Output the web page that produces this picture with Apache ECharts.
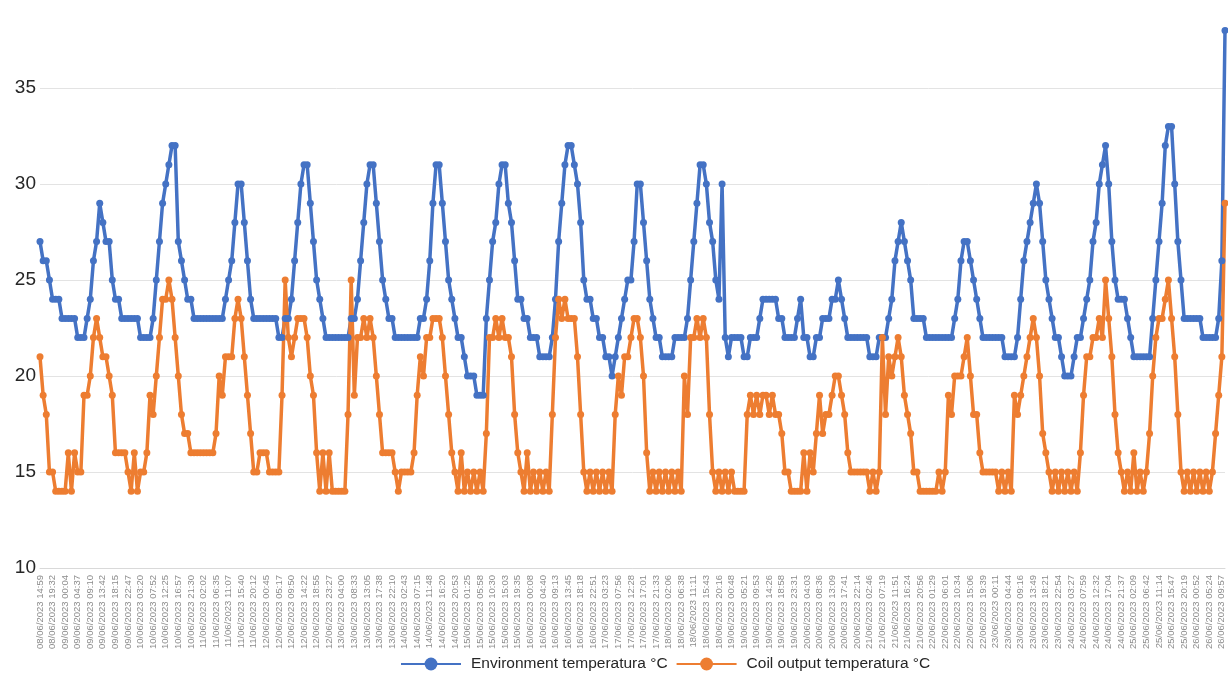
<!DOCTYPE html>
<html>
<head>
<meta charset="utf-8">
<script src="https://cdn.jsdelivr.net/npm/echarts@6/dist/echarts.min.js"></script>
<style>
  html, body { margin: 0; padding: 0; background: #fff; }
  #chart { width: 1228px; height: 676px; }
</style>
</head>
<body>
<div id="chart"></div>
<script>
// x labels, one every 4 readings
var tickLabels = [
  "08/06/2023 14:59", "08/06/2023 19:32", "09/06/2023 00:04", "09/06/2023 04:37", "09/06/2023 09:10",
  "09/06/2023 13:42", "09/06/2023 18:15", "09/06/2023 22:47", "10/06/2023 03:20", "10/06/2023 07:52",
  "10/06/2023 12:25", "10/06/2023 16:57", "10/06/2023 21:30", "11/06/2023 02:02", "11/06/2023 06:35",
  "11/06/2023 11:07", "11/06/2023 15:40", "11/06/2023 20:12", "12/06/2023 00:45", "12/06/2023 05:17",
  "12/06/2023 09:50", "12/06/2023 14:22", "12/06/2023 18:55", "12/06/2023 23:27", "13/06/2023 04:00",
  "13/06/2023 08:33", "13/06/2023 13:05", "13/06/2023 17:38", "13/06/2023 22:10", "14/06/2023 02:43",
  "14/06/2023 07:15", "14/06/2023 11:48", "14/06/2023 16:20", "14/06/2023 20:53", "15/06/2023 01:25",
  "15/06/2023 05:58", "15/06/2023 10:30", "15/06/2023 15:03", "15/06/2023 19:35", "16/06/2023 00:08",
  "16/06/2023 04:40", "16/06/2023 09:13", "16/06/2023 13:45", "16/06/2023 18:18", "16/06/2023 22:51",
  "17/06/2023 03:23", "17/06/2023 07:56", "17/06/2023 12:28", "17/06/2023 17:01", "17/06/2023 21:33",
  "18/06/2023 02:06", "18/06/2023 06:38", "18/06/2023 11:11", "18/06/2023 15:43", "18/06/2023 20:16",
  "19/06/2023 00:48", "19/06/2023 05:21", "19/06/2023 09:53", "19/06/2023 14:26", "19/06/2023 18:58",
  "19/06/2023 23:31", "20/06/2023 04:03", "20/06/2023 08:36", "20/06/2023 13:09", "20/06/2023 17:41",
  "20/06/2023 22:14", "21/06/2023 02:46", "21/06/2023 07:19", "21/06/2023 11:51", "21/06/2023 16:24",
  "21/06/2023 20:56", "22/06/2023 01:29", "22/06/2023 06:01", "22/06/2023 10:34", "22/06/2023 15:06",
  "22/06/2023 19:39", "23/06/2023 00:11", "23/06/2023 04:44", "23/06/2023 09:16", "23/06/2023 13:49",
  "23/06/2023 18:21", "23/06/2023 22:54", "24/06/2023 03:27", "24/06/2023 07:59", "24/06/2023 12:32",
  "24/06/2023 17:04", "24/06/2023 21:37", "25/06/2023 02:09", "25/06/2023 06:42", "25/06/2023 11:14",
  "25/06/2023 15:47", "25/06/2023 20:19", "26/06/2023 00:52", "26/06/2023 05:24", "26/06/2023 09:57"
];

// Environment temperatura °C
var envTemp = [
  27, 26, 26, 25,  24, 24, 24, 23,  23, 23, 23, 23,  22, 22, 22, 23,
  24, 26, 27, 29,  28, 27, 27, 25,  24, 24, 23, 23,  23, 23, 23, 23,
  22, 22, 22, 22,  23, 25, 27, 29,  30, 31, 32, 32,  27, 26, 25, 24,
  24, 23, 23, 23,  23, 23, 23, 23,  23, 23, 23, 24,  25, 26, 28, 30,
  30, 28, 26, 24,  23, 23, 23, 23,  23, 23, 23, 23,  22, 22, 23, 23,
  24, 26, 28, 30,  31, 31, 29, 27,  25, 24, 23, 22,  22, 22, 22, 22,
  22, 22, 22, 23,  23, 24, 26, 28,  30, 31, 31, 29,  27, 25, 24, 23,
  23, 22, 22, 22,  22, 22, 22, 22,  22, 23, 23, 24,  26, 29, 31, 31,
  29, 27, 25, 24,  23, 22, 22, 21,  20, 20, 20, 19,  19, 19, 23, 25,
  27, 28, 30, 31,  31, 29, 28, 26,  24, 24, 23, 23,  22, 22, 22, 21,
  21, 21, 21, 22,  24, 27, 29, 31,  32, 32, 31, 30,  28, 25, 24, 24,
  23, 23, 22, 22,  21, 21, 20, 21,  22, 23, 24, 25,  25, 27, 30, 30,
  28, 26, 24, 23,  22, 22, 21, 21,  21, 21, 22, 22,  22, 22, 23, 25,
  27, 29, 31, 31,  30, 28, 27, 25,  24, 30, 22, 21,  22, 22, 22, 22,
  21, 21, 22, 22,  22, 23, 24, 24,  24, 24, 24, 23,  23, 22, 22, 22,
  22, 23, 24, 22,  22, 21, 21, 22,  22, 23, 23, 23,  24, 24, 25, 24,
  23, 22, 22, 22,  22, 22, 22, 22,  21, 21, 21, 22,  22, 22, 23, 24,
  26, 27, 28, 27,  26, 25, 23, 23,  23, 23, 22, 22,  22, 22, 22, 22,
  22, 22, 22, 23,  24, 26, 27, 27,  26, 25, 24, 23,  22, 22, 22, 22,
  22, 22, 22, 21,  21, 21, 21, 22,  24, 26, 27, 28,  29, 30, 29, 27,
  25, 24, 23, 22,  22, 21, 20, 20,  20, 21, 22, 22,  23, 24, 25, 27,
  28, 30, 31, 32,  30, 27, 25, 24,  24, 24, 23, 22,  21, 21, 21, 21,
  21, 21, 23, 25,  27, 29, 32, 33,  33, 30, 27, 25,  23, 23, 23, 23,
  23, 23, 22, 22,  22, 22, 22, 23,  26, 38
];

// Coil output temperatura °C
var coilTemp = [
  21, 19, 18, 15,  15, 14, 14, 14,  14, 16, 14, 16,  15, 15, 19, 19,
  20, 22, 23, 22,  21, 21, 20, 19,  16, 16, 16, 16,  15, 14, 16, 14,
  15, 15, 16, 19,  18, 20, 22, 24,  24, 25, 24, 22,  20, 18, 17, 17,
  16, 16, 16, 16,  16, 16, 16, 16,  17, 20, 19, 21,  21, 21, 23, 24,
  23, 21, 19, 17,  15, 15, 16, 16,  16, 15, 15, 15,  15, 19, 25, 22,
  21, 22, 23, 23,  23, 22, 20, 19,  16, 14, 16, 14,  16, 14, 14, 14,
  14, 14, 18, 25,  19, 22, 22, 23,  22, 23, 22, 20,  18, 16, 16, 16,
  16, 15, 14, 15,  15, 15, 15, 16,  19, 21, 20, 22,  22, 23, 23, 23,
  22, 20, 18, 16,  15, 14, 16, 14,  15, 14, 15, 14,  15, 14, 17, 22,
  22, 23, 22, 23,  22, 22, 21, 18,  16, 15, 14, 16,  14, 15, 14, 15,
  14, 15, 14, 18,  22, 24, 23, 24,  23, 23, 23, 21,  18, 15, 14, 15,
  14, 15, 14, 15,  14, 15, 14, 18,  20, 19, 21, 21,  22, 23, 23, 22,
  20, 16, 14, 15,  14, 15, 14, 15,  14, 15, 14, 15,  14, 20, 18, 22,
  22, 23, 22, 23,  22, 18, 15, 14,  15, 14, 15, 14,  15, 14, 14, 14,
  14, 18, 19, 18,  19, 18, 19, 19,  18, 19, 18, 18,  17, 15, 15, 14,
  14, 14, 14, 16,  14, 16, 15, 17,  19, 17, 18, 18,  19, 20, 20, 19,
  18, 16, 15, 15,  15, 15, 15, 15,  14, 15, 14, 15,  22, 18, 21, 20,
  21, 22, 21, 19,  18, 17, 15, 15,  14, 14, 14, 14,  14, 14, 15, 14,
  15, 19, 18, 20,  20, 20, 21, 22,  20, 18, 18, 16,  15, 15, 15, 15,
  15, 14, 15, 14,  15, 14, 19, 18,  19, 20, 21, 22,  23, 22, 20, 17,
  16, 15, 14, 15,  14, 15, 14, 15,  14, 15, 14, 16,  19, 21, 21, 22,
  22, 23, 22, 25,  23, 21, 18, 16,  15, 14, 15, 14,  16, 14, 15, 14,
  15, 17, 20, 22,  23, 23, 24, 25,  23, 21, 18, 15,  14, 15, 14, 15,
  14, 15, 14, 15,  14, 15, 17, 19,  21, 29
];

var slots = envTemp.map(function (v, i) { return String(i); });

var chart = echarts.init(document.getElementById('chart'));

var option = {
  animation: false,
  grid: { left: 40, right: 3, top: -8, bottom: 108, outerBoundsMode: 'none', containLabel: false },
  legend: {
    left: 400,
    top: 656,
    padding: 0,
    itemWidth: 60,
    itemHeight: 16,
    itemGap: 8,
    textStyle: { fontSize: 15.5, color: '#262626', fontFamily: 'Liberation Sans', padding: [0, 0, 0, 5] },
    data: ['Environment temperatura °C', 'Coil output temperatura °C']
  },
  xAxis: {
    type: 'category',
    boundaryGap: false,
    data: slots,
    axisLine: { lineStyle: { color: '#d9d9d9' } },
    axisTick: { show: false },
    axisLabel: {
      interval: 3,
      rotate: 90,
      margin: 7,
      fontSize: 9.5,
      color: '#8c8c8c',
      fontFamily: 'Liberation Sans',
      formatter: function (value, idx) {
        return tickLabels[idx / 4] || '';
      }
    }
  },
  yAxis: {
    type: 'value',
    min: 10,
    max: 40,
    interval: 5,
    axisLine: { show: false },
    axisTick: { show: false },
    splitLine: { lineStyle: { color: '#e3e3e3' } },
    axisLabel: { fontSize: 19, color: '#262626', margin: 4, fontFamily: 'Liberation Sans' }
  },
  series: [
    {
      name: 'Environment temperatura °C',
      type: 'line',
      data: envTemp,
      color: '#4472C4',
      symbol: 'circle',
      symbolSize: 7,
      showSymbol: true,
      showAllSymbol: true,
      lineStyle: { width: 3.5 }
    },
    {
      name: 'Coil output temperatura °C',
      type: 'line',
      data: coilTemp,
      color: '#ED7D31',
      symbol: 'circle',
      symbolSize: 7,
      showSymbol: true,
      showAllSymbol: true,
      lineStyle: { width: 3.5 }
    }
  ]
};

chart.setOption(option);
</script>
</body>
</html>
